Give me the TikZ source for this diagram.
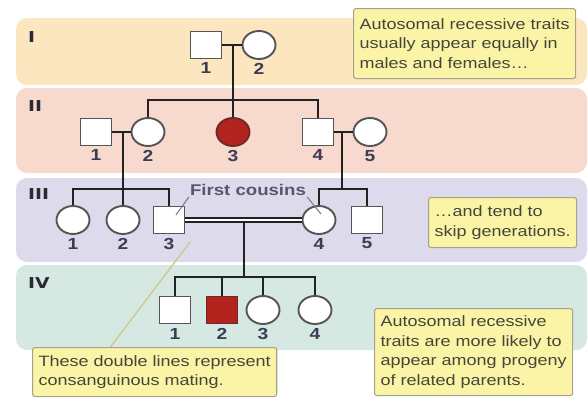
\documentclass[tikz,border=0pt]{standalone}
\usepackage{fontspec}
\setmainfont{Liberation Sans}[FakeStretch=1.2]
\newfontfamily\genfont{DejaVu Sans}[FakeStretch=1.25]
\usetikzlibrary{shapes.geometric,calc}

\definecolor{bandI}{HTML}{FCE6C0}
\definecolor{bandII}{HTML}{F7D9CE}
\definecolor{bandIII}{HTML}{DDDBEB}
\definecolor{bandIV}{HTML}{D5E8E2}
\definecolor{notefill}{HTML}{FBF4A6}
\definecolor{noteedge}{HTML}{A4A48C}
\definecolor{notetext}{HTML}{45453A}
\definecolor{redfill}{HTML}{B3231D}
\definecolor{rededge}{HTML}{6E2A28}
\definecolor{numcol}{HTML}{3C3C55}
\definecolor{gencol}{HTML}{2A2A36}
\definecolor{linecol}{HTML}{222222}
\definecolor{symedge}{HTML}{555555}
\definecolor{cousincol}{HTML}{55556E}
\definecolor{cousinlead}{HTML}{77778A}
\definecolor{notelead}{HTML}{CFC78A}

\begin{document}
\begin{tikzpicture}[x=1pt,y=-1pt,
  band/.style={rounded corners=11pt},
  pedline/.style={draw=linecol, line width=2.7pt},
  person/.style={draw=symedge, line width=1.9pt, fill=white, inner sep=0pt},
  male/.style={person, rectangle, minimum width=31pt, minimum height=27pt},
  female/.style={person, ellipse, minimum width=33pt, minimum height=28pt},
  sick/.style={fill=redfill, draw=rededge},
  num/.style={font=\bfseries\fontsize{16}{16}\selectfont, text=numcol},
  gen/.style={font=\genfont\bfseries\fontsize{15}{15}\selectfont, text=gencol, anchor=west, inner sep=0pt},
  note/.style={draw=noteedge, fill=notefill, line width=1.1pt, rounded corners=2.5pt,
    align=left, anchor=north west, inner xsep=6pt, inner ysep=0pt, text=notetext,
    font=\fontsize{15}{19.5}\selectfont},
  pointer/.style={line width=1pt},
]
\useasboundingbox (0,0) rectangle (588,397);

% generation bands
\fill[bandI, band] (16,18) rectangle (587,85);
\fill[bandII, band] (16,88) rectangle (587,173);
\fill[bandIII, band] (16,178) rectangle (587,262);
\fill[bandIV, band] (16,265) rectangle (587,350);

% generation numerals
\node[gen] (gI) at (28,37) {I};
\node[gen] (gII) at (28,106) {II};
\node[gen] (gIII) at (28,194) {III};
\node[gen] (gIV) at (28,283) {IV};

% generation I
\node[male, label={[num]below:1}] (I1) at (206,45) {};
\node[female, label={[num]below:2}] (I2) at (259,45) {};

% generation II
\node[male, label={[num]below:1}] (II1) at (96,132) {};
\node[female, label={[num]below:2}] (II2) at (148,132) {};
\node[female, sick, label={[num]below:3}] (II3) at (233,132) {};
\node[male, label={[num]below:4}] (II4) at (318,132) {};
\node[female, label={[num]below:5}] (II5) at (370,132) {};

% generation III
\node[female, label={[num]below:1}] (III1) at (73,220) {};
\node[female, label={[num]below:2}] (III2) at (123,220) {};
\node[male, label={[num]below:3}] (III3) at (169,220) {};
\node[female, label={[num]below:4}] (III4) at (319,220) {};
\node[male, label={[num]below:5}] (III5) at (367,220) {};

% generation IV
\node[male, label={[num]below:1}] (IV1) at (175,310) {};
\node[male, sick, label={[num]below:2}] (IV2) at (222,310) {};
\node[female, label={[num]below:3}] (IV3) at (263,310) {};
\node[female, label={[num]below:4}] (IV4) at (315,310) {};

% matings
\draw[pedline] (I1) -- (I2);
\draw[pedline] (II1) -- (II2);
\draw[pedline] (II4) -- (II5);

% offspring of I-1 x I-2
\coordinate (mI) at (233,45);
\coordinate (sII) at (233,100);
\draw[pedline] (mI) -- (II3.north);
\draw[pedline] (II2.north) |- (sII) -| (II4.north);

% offspring of II-1 x II-2
\coordinate (mIIa) at (123,132);
\coordinate (sIIIa) at (123,189);
\draw[pedline] (mIIa) -- (III2.north);
\draw[pedline] (III1.north) |- (sIIIa) -| (III3.north);

% offspring of II-4 x II-5
\coordinate (mIIb) at (342,132);
\coordinate (sIIIb) at (342,189);
\draw[pedline] (mIIb) -- (sIIIb);
\draw[pedline] (III4.north) |- (sIIIb) -| (III5.north);

% consanguineous mating of the first cousins and their children
\coordinate (mIII) at (244,223);
\coordinate (sIV) at (244,277);
\draw[pedline] (mIII) -- (sIV);
\draw[draw=linecol, line width=2.1pt, double=white, double distance=2.6pt] (III3) -- (III4);
\draw[pedline] (IV1.north) |- (sIV) -| (IV4.north);
\draw[pedline] (IV2.north) -- (IV2.north |- sIV);
\draw[pedline] (IV3.north) -- (IV3.north |- sIV);

% first cousins label
\node[font=\bfseries\fontsize{15.5}{15.5}\selectfont, text=cousincol, inner sep=1pt] (fc) at (248,190) {First cousins};
\draw[pointer, draw=cousinlead] (fc.south west) -- ($(III3.center)+(7,-5)$);
\draw[pointer, draw=cousinlead] (fc.south east) -- ($(III4.center)+(2,-6)$);

% notes
\node[note, minimum height=70pt] (n1) at (353,8)
  {Autosomal recessive traits\\usually appear equally in\\males and females…};
\node[note, minimum height=50pt] (n2) at (428,197)
  {…and tend to\\skip generations.};
\node[note, minimum height=87pt] (n3) at (374,308)
  {Autosomal recessive\\traits are more likely to\\appear among progeny\\of related parents.};
\node[note, minimum height=49pt] (n4) at (32,347)
  {These double lines represent\\consanguinous mating.};
\draw[pointer, draw=notelead, line width=1.3pt]
  ($(n4.north west)!0.32!(n4.north east)$) -- ($(III3.south east)+(5,7)$);

\end{tikzpicture}
\end{document}
